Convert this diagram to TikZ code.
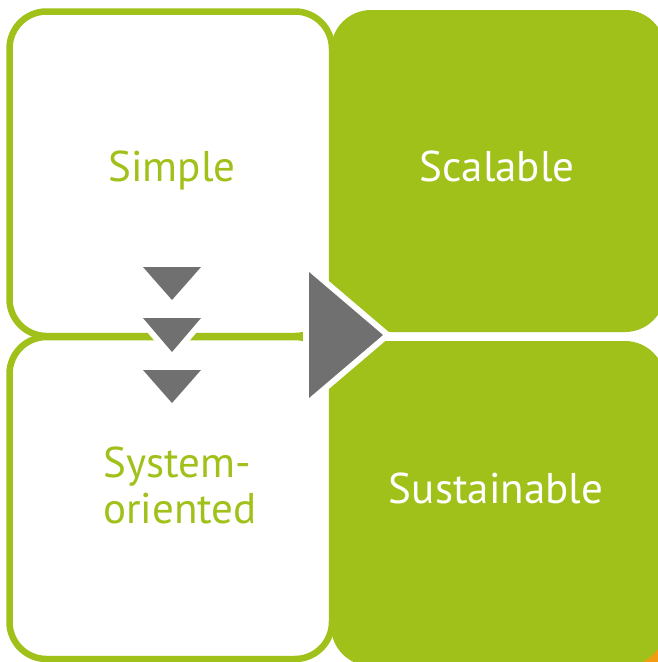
\documentclass[tikz,border=0pt]{standalone}
\usepackage{fontspec}
\setmainfont{PT Sans}
\definecolor{leaf}{RGB}{160,192,26}
\definecolor{slate}{RGB}{112,112,112}
\definecolor{amber}{RGB}{243,156,18}
\begin{document}
\begin{tikzpicture}[x=1pt,y=-1pt,
  greenbox/.style={fill=leaf, rounded corners=40pt},
  whitebox/.style={fill=white, draw=leaf, line width=6.5pt, rounded corners=37pt},
  arrowtri/.style={fill=slate, preaction={draw=white, line width=12pt, line join=miter}},
  label/.style={font=\fontsize{43}{46}\selectfont, inner sep=0pt}]
\useasboundingbox (0,0) rectangle (658,662);
\clip (0,0) rectangle (658,662);
% orange corner behind
\fill[amber] (600,600) rectangle (700,700);
% green boxes
\fill[greenbox] (331,10) rectangle (665,332);
\fill[greenbox] (331,341) rectangle (665,666);
% white boxes
\draw[whitebox] (9.5,11.5) rectangle (332,336);
\draw[whitebox] (9.5,337) rectangle (332,659);
% small down triangles
\path[arrowtri] (143,267) -- (201,267) -- (172,300) -- cycle;
\path[arrowtri] (143,318) -- (201,318) -- (172,352) -- cycle;
\path[arrowtri] (143,370) -- (201,370) -- (172,403) -- cycle;
% big right triangle
\path[arrowtri] (309,272) -- (383,335) -- (309,398) -- cycle;
% labels
\node[label, text=leaf, anchor=base] (simple) at (172,181) {Simple};
\node[label, text=white, anchor=base] (scalable) at (497,181) {Scalable};
\node[label, text=white, anchor=base] (sustainable) at (496,503) {Sustainable};
\node[label, text=leaf, anchor=base west, align=left] (system) at (103,523) {System-\\oriented};
\end{tikzpicture}
\end{document}
